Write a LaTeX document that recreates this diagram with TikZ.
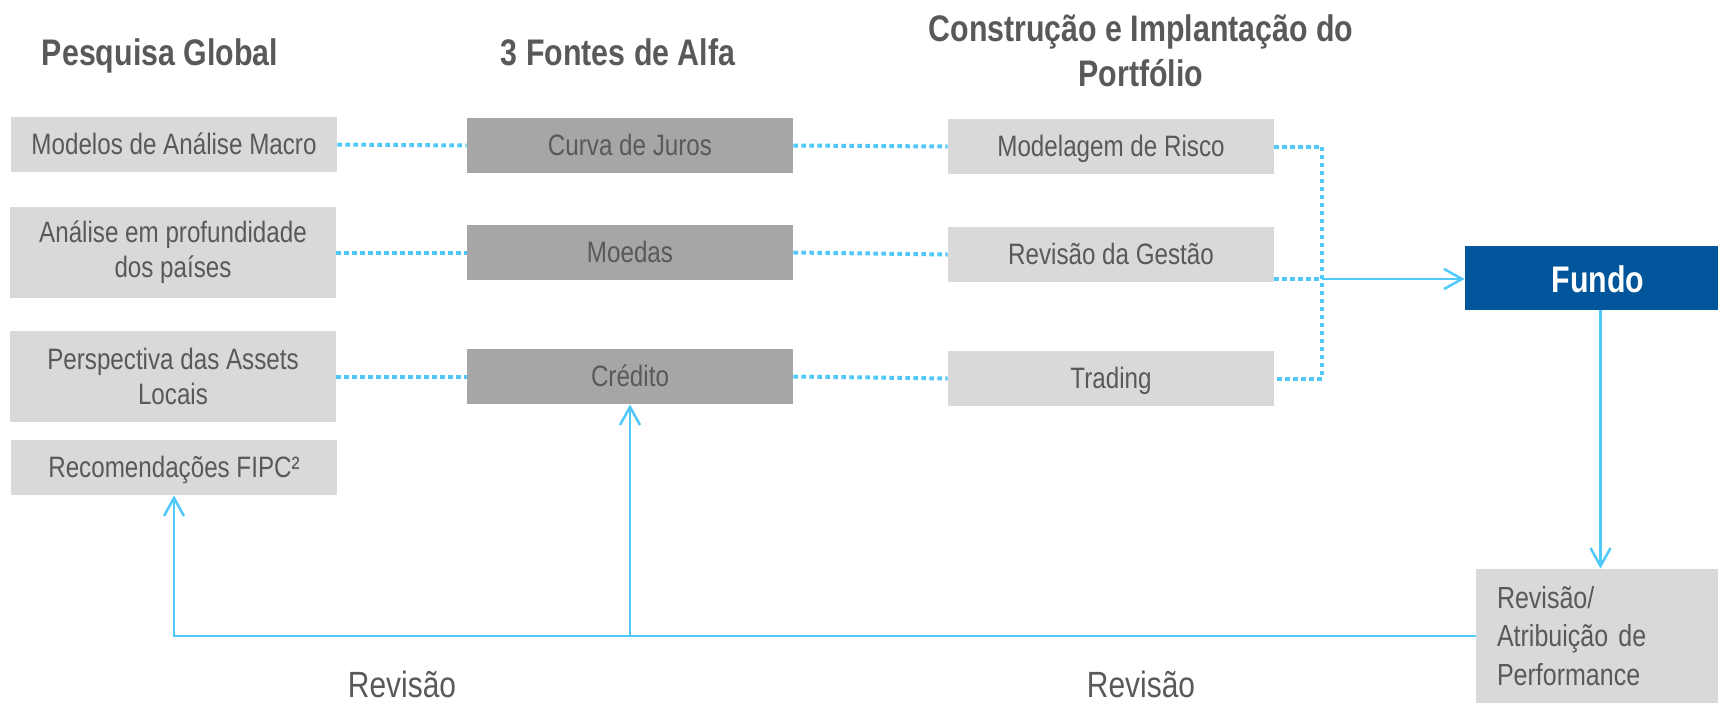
\documentclass[tikz,border=0pt]{standalone}
\usepackage{fontspec}
\setmainfont{Liberation Sans}[FakeStretch=0.82]
\usetikzlibrary{arrows.meta,calc}
\definecolor{lgray}{HTML}{D9D9D9}
\definecolor{mgray}{HTML}{A6A6A6}
\definecolor{tgray}{HTML}{595959}
\definecolor{fblue}{RGB}{0,85,155}
\definecolor{lblue}{RGB}{80,200,250}
\newcommand{\bodyfont}{\fontsize{14.75pt}{17.5pt}\selectfont}
\newcommand{\headfont}{\fontsize{18.5pt}{22.5pt}\selectfont\bfseries}
\newcommand{\revfont}{\fontsize{15.25pt}{19.25pt}\selectfont}
\newcommand{\lblfont}{\fontsize{18.25pt}{22pt}\selectfont}
\tikzset{
  boxbase/.style={rectangle, inner sep=0pt, align=center, text=tgray, font=\bodyfont,
    minimum width=163pt, minimum height=27.5pt},
  lbox/.style={boxbase, fill=lgray},
  mbox/.style={boxbase, fill=mgray},
  oneline/.style={text height=10.5pt, text depth=1pt},
  tallbox/.style={minimum height=45.5pt},
  header/.style={text=tgray, font=\headfont, align=center, inner sep=0pt},
  fundobox/.style={rectangle, fill=fblue, text=white, font=\headfont, inner sep=0pt,
    minimum width=126.5pt, minimum height=32pt, text height=14pt, text depth=0pt},
  revbox/.style={rectangle, fill=lgray, text=tgray, font=\revfont, align=left,
    inner xsep=10.5pt, inner ysep=0pt, text width=100pt, minimum height=67pt},
  rlabel/.style={text=tgray, font=\lblfont, inner sep=0pt},
  dotline/.style={draw=lblue, line width=2pt, dash pattern=on 2.25pt off 1.75pt},
  solid line/.style={draw=lblue, line width=1.25pt},
  arr/.style={solid line, -{Straight Barb[length=9pt,width=10pt,line width=1.25pt]}}
}
\begin{document}
\begin{tikzpicture}[x=0.5pt,y=-0.5pt]
\useasboundingbox (0,0) rectangle (1718,703);

% headers
\node[header, anchor=base] (h1) at (160,65) {Pesquisa Global};
\node[header, anchor=base] (h2) at (618,65) {3 Fontes de Alfa};
\node[header] (h3) at (1141,51) {Construção e Implantação do\\Portfólio};

% left column
\node[lbox, oneline] (macro) at (174,144.5) {Modelos de Análise Macro};
\node[lbox, tallbox] (analise) at (173,252.5) {Análise em profundidade\\dos países};
\node[lbox, tallbox] (persp) at (173,376.5) {Perspectiva das Assets\\Locais};
\node[lbox, oneline] (recom) at (174,467.5) {Recomendações FIPC²};

% middle column
\node[mbox, oneline] (curva) at (630,145.5) {Curva de Juros};
\node[mbox, oneline] (moedas) at (630,252.5) {Moedas};
\node[mbox, oneline] (credito) at (630,376.5) {Crédito};

% right column
\node[lbox, oneline] (model) at (1111,146.5) {Modelagem de Risco};
\node[lbox, oneline] (gestao) at (1111,254.5) {Revisão da Gestão};
\node[lbox, oneline] (trading) at (1111,378.5) {Trading};

% fund and review
\node[fundobox] (fundo) at (1591.5,278) {\hspace*{6.5pt}Fundo};
\node[revbox] (rev) at (1597,636) {Revisão/\\Atribuição de\\Performance};

% labels
\node[rlabel, anchor=base] (rv1) at (402,697) {Revisão};
\node[rlabel, anchor=base] (rv2) at (1141,697) {Revisão};

% dotted connectors
\draw[dotline] (macro.east) -- (curva.west);
\draw[dotline] (analise.east) -- (moedas.west);
\draw[dotline] (persp.east) -- (credito.west);
\draw[dotline] (curva.east) -- (model.west);
\draw[dotline] (moedas.east) -- (gestao.west);
\draw[dotline] (credito.east) -- (trading.west);

\coordinate (jt) at (1322,146.5);
\coordinate (j) at (1322,279);
\draw[dotline] (model.east) -- (jt) -- (jt |- trading.east) -- (trading.east);
\draw[dotline] (gestao.east |- j) -- (j);
\draw[arr] (j) -- (j -| fundo.west);

% fund to review
\coordinate (fs) at ([xshift=4.5pt]fundo.south);
\draw[arr] (fs) -- (fs |- rev.north);

% feedback
\draw[arr] (rev.west) -| (recom.south);
\draw[arr] (credito.south |- rev.west) -- (credito.south);
\end{tikzpicture}
\end{document}
